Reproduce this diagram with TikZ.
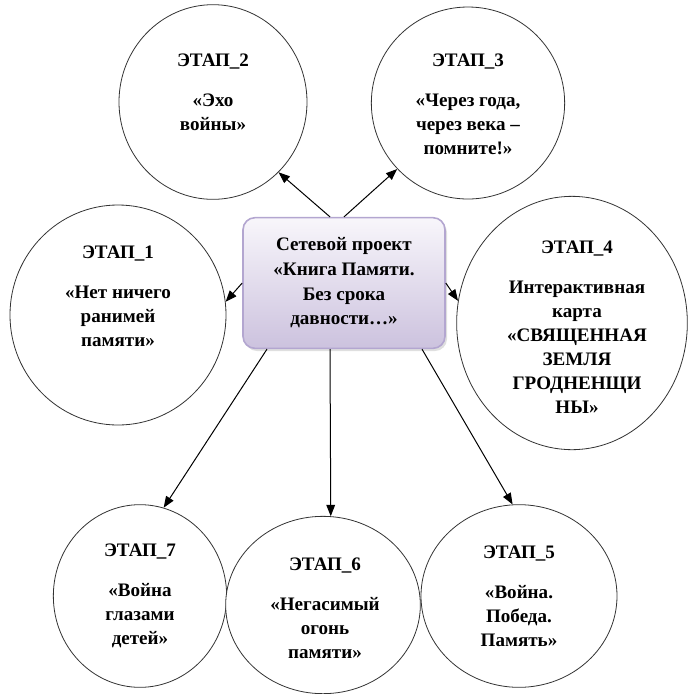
\documentclass[tikz,border=0pt]{standalone}
\usepackage{fontspec}
\setmainfont{Liberation Serif}[BoldFont={Liberation Serif Bold}]
\usepackage{tikz}
\usepackage{xcolor}
\usetikzlibrary{shapes}
\usetikzlibrary{positioning}
\usetikzlibrary{arrows.meta}
\usetikzlibrary{shadows}

\definecolor{boxline}{HTML}{B3A6D0}
\definecolor{boxtop}{HTML}{F8F6FB}
\definecolor{boxbottom}{HTML}{CCC2DE}

\begin{document}
\begin{tikzpicture}[x=0.75pt,y=-0.75pt]
        \tikzstyle{stage}=[ellipse,draw=black!80,line width=0.6pt,fill=white,inner sep=0pt]
        \tikzstyle{stagetext}=[align=center,font=\fontsize{14.3}{18}\selectfont\bfseries,inner sep=0pt]
        \tikzstyle{project}=[rectangle,rounded corners=9pt,draw=boxline,line width=1.2pt,top color=boxtop,bottom color=boxbottom,
                             drop shadow={opacity=0.25,shadow xshift=1.5pt,shadow yshift=-2pt},
                             minimum width=151.5pt,minimum height=98pt,align=center,font=\fontsize{14.3}{18.5}\selectfont\bfseries]
        \tikzstyle{edge}=[line width=0.75pt,>={Triangle[length=8.5pt,width=6.5pt]}]
        \useasboundingbox (0,0) rectangle (690,694);
       \begin{scope}
         % stages
         \node [stage,minimum width=162pt,minimum height=165pt] (e1) at (118,315) {};
         \node [stage,minimum width=141pt,minimum height=146pt] (e2) at (213,102) {};
         \node [stage,minimum width=145pt,minimum height=144pt] (e3) at (468,103) {};
         \node [stage,minimum width=173pt,minimum height=190pt] (e4) at (572,323) {};
         \node [stage,minimum width=130pt,minimum height=137pt] (e7) at (140,596) {};
         \node [stage,minimum width=146pt,minimum height=133pt] (e6) at (323,605) {};
         \node [stage,minimum width=147pt,minimum height=137pt] (e5) at (519,596) {};
         \node [stagetext] (t1) at (118,296) {ЭТАП\_1\\[12pt]«Нет ничего\\ранимей\\памяти»};
         \node [stagetext] (t2) at (213,92) {ЭТАП\_2\\[12pt]«Эхо\\войны»};
         \node [stagetext] (t3) at (468,104) {ЭТАП\_3\\[12pt]«Через года,\\через века –\\помните!»};
         \node [stagetext] (t4) at (577,327) {ЭТАП\_4\\[12pt]Интерактивная\\карта\\«СВЯЩЕННАЯ\\ЗЕМЛЯ\\ГРОДНЕНЩИ\\НЫ»};
         \node [stagetext] (t7) at (140,596) {ЭТАП\_7\\[12pt]«Война\\глазами\\детей»};
         \node [stagetext] (t6) at (325,608) {ЭТАП\_6\\[12pt]«Негасимый\\огонь\\памяти»};
         \node [stagetext] (t5) at (519,596) {ЭТАП\_5\\[12pt]«Война.\\Победа.\\Память»};
         % project
         \node [project] (box) at (344,283) {Сетевой проект\\«Книга Памяти.\\Без срока\\давности…»};
         \path[edge,->] ([xshift=-10.5pt]box.north) edge (e2.-47);
         \path[edge,->] (box.north) edge (e3.-137);
         \path[edge,->] (box.west) edge (e1.7);
         \path[edge,->] (box.east) edge (e4.169);
         \path[edge,->] ([xshift=-57.75pt]box.south) edge (e7.75);
         \path[edge,->] ([xshift=-10.5pt]box.south) edge (e6.85);
         \path[edge,->] ([xshift=58.5pt]box.south) edge (e5.94);
        \end{scope}
      \end{tikzpicture}
\end{document}
